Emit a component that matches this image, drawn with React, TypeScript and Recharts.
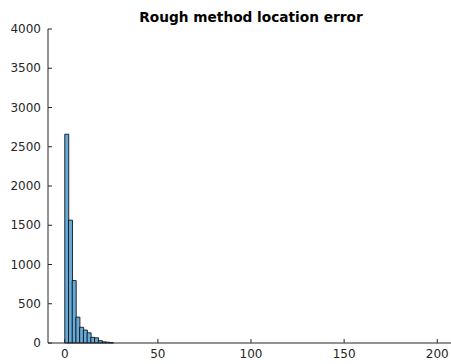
import React from "react";
import { ComposedChart, Bar, XAxis, YAxis } from "recharts";

const binCenters = [1, 3, 5, 7, 9, 11, 13, 15, 17, 19, 21, 23, 25];
const counts = [2660, 1565, 795, 330, 200, 165, 130, 72, 66, 30, 15, 10, 4];
const xTicks = [0, 50, 100, 150, 200];
const yTicks = [0, 500, 1000, 1500, 2000, 2500, 3000, 3500, 4000];
const title = "Rough method location error";

const data = binCenters.map((c, i) => ({ x: c, count: counts[i] }));

const AXIS = "#262626";
const FONT = "DejaVu Sans, sans-serif";

const BottomTick = (props: any) => {
  const { x, y, payload } = props;
  return (
    <g>
      <line x1={x} x2={x} y1={y} y2={y - 4} stroke={AXIS} strokeWidth={1} />
      <text x={x} y={y + 11} textAnchor="middle" dominantBaseline="central" fontSize={12} fontFamily={FONT} fill={AXIS}>
        {payload.value}
      </text>
    </g>
  );
};

const TopTick = (props: any) => {
  const { x, y } = props;
  return <line x1={x} x2={x} y1={y} y2={y + 4} stroke={AXIS} strokeWidth={1} />;
};

const LeftTick = (props: any) => {
  const { x, y, payload } = props;
  return (
    <g>
      <line x1={x} x2={x + 4} y1={y} y2={y} stroke={AXIS} strokeWidth={1} />
      <text x={x - 7} y={y} textAnchor="end" dominantBaseline="central" fontSize={12} fontFamily={FONT} fill={AXIS}>
        {payload.value}
      </text>
    </g>
  );
};

export default function App() {
  return (
    <div style={{ position: "fixed", left: 0, top: 0, width: 451, height: 364, overflow: "hidden", background: "#fff" }}>
      <div
        style={{
          position: "absolute",
          left: 48,
          width: 406,
          top: 9,
          textAlign: "center",
          fontFamily: FONT,
          fontWeight: "bold",
          fontSize: 13.7,
          color: "#000",
          lineHeight: "16px",
          whiteSpace: "nowrap",
        }}
      >
        {title}
      </div>
      <div style={{ position: "absolute", left: 8, top: 8 }}>
        <ComposedChart
          width={446}
          height={356}
          data={data}
          margin={{ top: 21, right: 0, bottom: 0, left: 0 }}
          barCategoryGap={0}
          barGap={0}
        >
          <XAxis
            xAxisId="bottom"
            dataKey="x"
            type="number"
            domain={[-9, 209]}
            ticks={xTicks}
            allowDataOverflow
            height={21}
            tickSize={0}
            tickMargin={0}
            tickLine={false}
            axisLine={{ stroke: AXIS, strokeWidth: 1 }}
            tick={BottomTick}
            interval={0}
          />
          <XAxis
            xAxisId="top"
            orientation="top"
            dataKey="x"
            type="number"
            domain={[-9, 209]}
            ticks={xTicks}
            allowDataOverflow
            height={0}
            tickSize={0}
            tickMargin={0}
            tickLine={false}
            axisLine={{ stroke: AXIS, strokeWidth: 1 }}
            tick={TopTick}
            interval={0}
          />
          <YAxis
            yAxisId="left"
            type="number"
            domain={[0, 4000]}
            ticks={yTicks}
            width={40}
            tickSize={0}
            tickMargin={0}
            tickLine={false}
            axisLine={{ stroke: AXIS, strokeWidth: 1 }}
            tick={LeftTick}
            interval={0}
          />
          <Bar
            xAxisId="bottom"
            yAxisId="left"
            dataKey="count"
            fill="#66AAD7"
            stroke="#000"
            strokeWidth={0.8}
            isAnimationActive={false}
          />
        </ComposedChart>
      </div>
    </div>
  );
}
